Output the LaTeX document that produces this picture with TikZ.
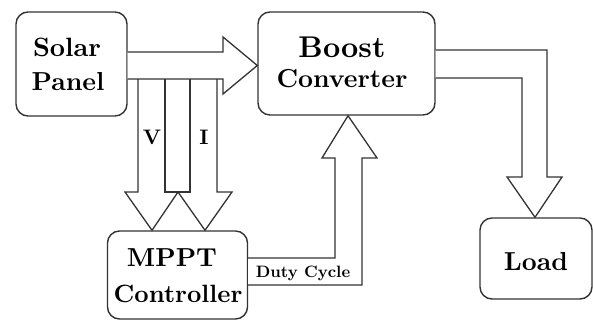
\documentclass[tikz,border=0pt]{standalone}
\usepackage{fontspec}
\newfontfamily\lmb{lmroman10-bold}[Extension=.otf]
\begin{document}
\begin{tikzpicture}[x=1pt,y=-1pt,
  blk/.style={draw=black!80,line width=1.4pt,rounded corners=12pt,fill=white,inner sep=0pt,align=center},
  fat/.style={draw=black!80,line width=1.3pt,fill=white,line join=miter},
  lbl/.style={inner sep=0pt}]
\useasboundingbox (0,0) rectangle (593,320);
\node[blk,minimum width=111pt,minimum height=104pt] (solar) at (71.5,64) {};
\node[blk,minimum width=177pt,minimum height=103pt] (boost) at (346.5,63.5) {};
\node[blk,minimum width=140pt,minimum height=88pt] (mppt) at (177.5,275) {};
\node[blk,minimum width=112pt,minimum height=81pt] (load) at (536,258.5) {};
% texts
\node[lbl,font=\lmb\fontsize{26.5}{30}\selectfont] (t1) at (67,47) {Solar};
\node[lbl,font=\lmb\fontsize{26}{30}\selectfont] (t2) at (68,82) {Panel};
\node[lbl,font=\lmb\fontsize{30}{34}\selectfont] (t3) at (342,47) {Boost};
\node[lbl,font=\lmb\fontsize{26}{30}\selectfont] (t4) at (342,79) {Converter};
\node[lbl,font=\lmb\fontsize{26}{30}\selectfont] (t5) at (172,258) {MPPT};
\node[lbl,font=\lmb\fontsize{25}{30}\selectfont] (t6) at (178,294) {Controller};
\node[lbl,font=\lmb\fontsize{26}{30}\selectfont] (t7) at (536,262) {Load};
% V and I arrows
\draw[fat] (138,79) -- (138,192) -- (125,192) -- (152,0 |- mppt.north) -- (178,192) -- (205,0 |- mppt.north) -- (232,192) -- (217,192) -- (217,79);
\draw[fat] (165,79) -- (165,192) -- (190,192) -- (190,79);
% solar -> boost
\draw[fat] (solar.east |- 0,52) -- (223,52) -- (223,37) -- (boost.west |- 0,65.5) -- (223,94) -- (223,79) -- (solar.east |- 0,79);
\node[lbl,font=\lmb\fontsize{21}{22}\selectfont] (v) at (152,137) {V};
\node[lbl,font=\lmb\fontsize{21}{22}\selectfont] (i) at (204,137) {I};
% duty cycle
\draw[fat] (mppt.east |- 0,258) -- (335,258) -- (335,158) -- (322,158) -- (348,0 |- boost.south) -- (377,158) -- (362,158) -- (362,285) -- (mppt.east |- 0,285);
\node[lbl,font=\lmb\fontsize{16.5}{18}\selectfont] (duty) at (303,273) {Duty Cycle};
% boost -> load
\draw[fat] (boost.east |- 0,50) -- (547,50) -- (547,177) -- (562,177) -- (535,0 |- load.north) -- (507,177) -- (522,177) -- (522,78) -- (boost.east |- 0,78);
\end{tikzpicture}
\end{document}
